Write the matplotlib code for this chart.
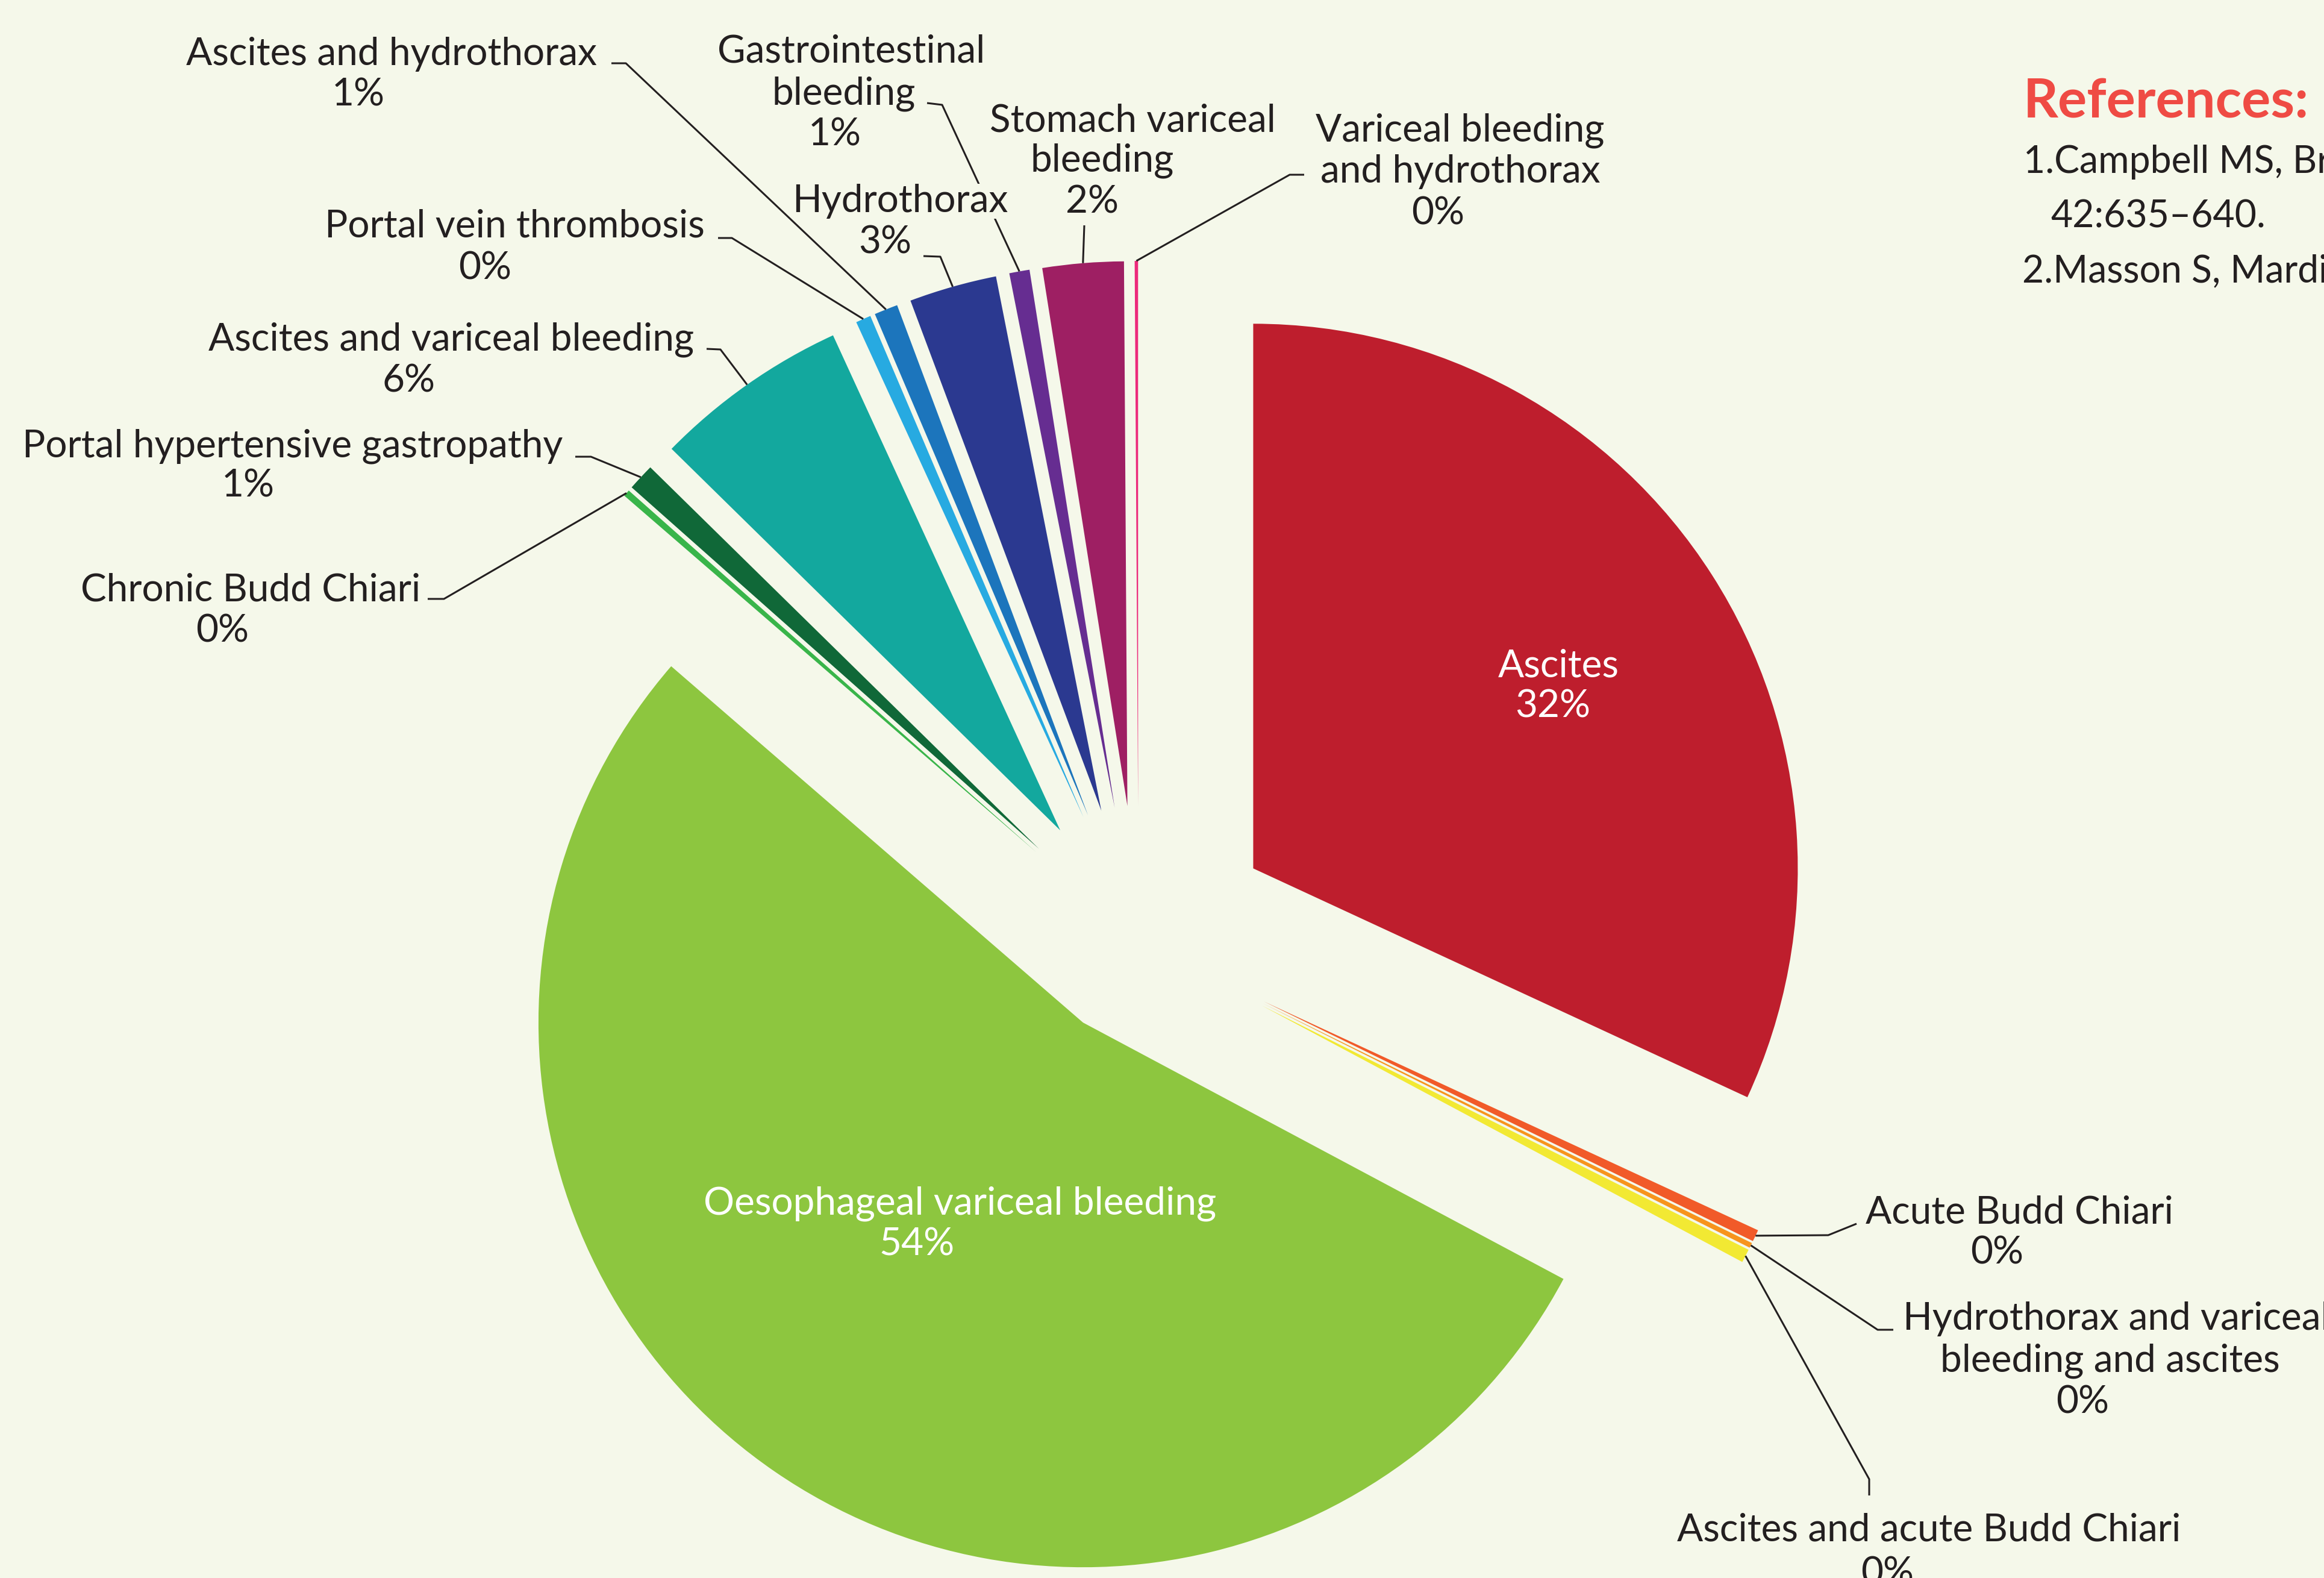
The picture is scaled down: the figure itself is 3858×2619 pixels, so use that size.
import matplotlib
matplotlib.use("Agg")
import matplotlib.pyplot as plt
import numpy as np

# share of presentations by decompensation type (%), clockwise from 12 o'clock
categories = [
    "Ascites",
    "Acute Budd Chiari",
    "Hydrothorax and variceal bleeding and ascites",
    "Ascites and acute Budd Chiari",
    "Oesophageal variceal bleeding",
    "Chronic Budd Chiari",
    "Portal hypertensive gastropathy",
    "Ascites and variceal bleeding",
    "Portal vein thrombosis",
    "Ascites and hydrothorax",
    "Hydrothorax",
    "Gastrointestinal bleeding",
    "Stomach variceal bleeding",
    "Variceal bleeding and hydrothorax",
]
shares = [31.9, 0.35, 0.15, 0.4, 53.55, 0.2, 0.8, 5.8, 0.45, 0.7, 2.6, 0.6, 2.4, 0.1]

# label text as printed (line breaks included)
label_text = [
    "Ascites",
    "Acute Budd Chiari",
    "Hydrothorax and variceal\nbleeding and ascites",
    "Ascites and acute Budd Chiari",
    "Oesophageal variceal bleeding",
    "Chronic Budd Chiari",
    "Portal hypertensive gastropathy",
    "Ascites and variceal bleeding",
    "Portal vein thrombosis",
    "Ascites and hydrothorax",
    "Hydrothorax",
    "Gastrointestinal\nbleeding",
    "Stomach variceal\nbleeding",
    "Variceal bleeding\nand hydrothorax",
]

references = [
    "1.Campbell MS, Brensinger CM, Sanyal AJ, et al. Quality of life",
    "42:635\u2013640.",
    "2.Masson S, Mardini HA, Rose JD, Record CO. Hepatic",
]

colors = ["#BE1E2D", "#F15A29", "#F7941D", "#F2E933", "#8DC63F", "#39B54A",
          "#106838", "#13A89E", "#27AAE1", "#1C75BC", "#2B3990", "#662D91",
          "#9E1F63", "#EC2A7B"]
explode = [0.25, 0.255, 0.255, 0.255, 0.18, 0.25, 0.25, 0.25, 0.25, 0.25,
           0.25, 0.25, 0.25, 0.25]

BG = "#F5F8EA"
INK = "#231F20"
FONT = ["Lato", "DejaVu Sans"]

# canvas in pixels; pie centre and radius in the same pixel frame (y down)
W, H = 3858, 2619
CX, CY, R = 1890, 1563, 904


def to_data(x, y):
    return (x - CX) / R, (CY - y) / R


# text placement in pixels: name lines (x, baseline[, ha]), percent line, leader elbows
layout = [
    dict(name=[(2587, 1123)], pct=(2578, 1190), leader=None, color="white"),
    dict(name=[(3353, 2030)], pct=(3315, 2098), leader=[(3035, 2050), (3082, 2031)]),
    dict(name=[(3159, 2207, "left"), (3503, 2276)], pct=(3457, 2345),
         leader=[(3117, 2207), (3143, 2207)]),
    dict(name=[(3202, 2558)], pct=(3133, 2630), leader=[(3103, 2455), (3103, 2482)]),
    dict(name=[(1594, 2015)], pct=(1522, 2083), leader=None, color="white"),
    dict(name=[(416, 997)], pct=(369, 1065), leader=[(737, 994), (710, 994)]),
    dict(name=[(486, 758)], pct=(412, 824), leader=[(981, 758), (955, 758)]),
    dict(name=[(749, 581)], pct=(678, 650), leader=[(1196, 580), (1173, 579)]),
    dict(name=[(854, 394)], pct=(805, 463), leader=[(1215, 395), (1192, 395)]),
    dict(name=[(650, 108)], pct=(595, 175), leader=[(1039, 105), (1015, 105)]),
    dict(name=[(1494, 352)], pct=(1469, 420), leader=[(1561, 426), (1533, 425)]),
    dict(name=[(1413, 103), (1401, 173)], pct=(1386, 241), leader=[(1564, 174), (1539, 171)]),
    dict(name=[(1880, 218), (1830, 284)], pct=(1813, 354), leader=[(1800, 374)]),
    dict(name=[(2424, 234), (2424, 303)], pct=(2387, 372), leader=[(2141, 290), (2165, 290)]),
]

fig = plt.figure(figsize=(W / 100, H / 100), dpi=100, facecolor=BG)
ax = fig.add_axes([0, 0, 1, 1])

wedges, _ = ax.pie(shares, explode=explode, colors=colors, startangle=90,
                   counterclock=False, radius=1, center=(0, 0),
                   wedgeprops=dict(linewidth=0))
ax.set_aspect("equal")
ax.set_xlim(-CX / R, (W - CX) / R)
ax.set_ylim((CY - H) / R, CY / R)
ax.axis("off")

total = sum(shares)
for i, (w, lay) in enumerate(zip(wedges, layout)):
    # leader from the middle of the wedge's outer arc to the label
    if lay["leader"]:
        a = np.deg2rad(0.5 * (w.theta1 + w.theta2))
        pts = [(w.center[0] + w.r * np.cos(a), w.center[1] + w.r * np.sin(a))]
        pts += [to_data(*p) for p in lay["leader"]]
        xs, ys = zip(*pts)
        ax.plot(xs, ys, color=INK, lw=2.2, solid_capstyle="butt", zorder=2)

    color = lay.get("color", INK)
    box = None if color == "white" else dict(facecolor=BG, edgecolor="none", pad=0)
    lines = label_text[i].split("\n")
    for line, pos in zip(lines, lay["name"]):
        ha = pos[2] if len(pos) > 2 else "center"
        ax.text(*to_data(pos[0], pos[1]), line, ha=ha, va="baseline",
                fontsize=46, family=FONT, color=color, bbox=box, zorder=3)
    pct = f"{shares[i] / total * 100:.0f}%"
    ax.text(*to_data(*lay["pct"]), pct, ha="center", va="baseline",
            fontsize=46, family=FONT, color=color, bbox=box, zorder=3)

# reference block, running off the right edge
ax.text(*to_data(3359, 196), "References:", ha="left", va="baseline",
        fontsize=65, fontweight="bold", family=FONT, color="#EF4B44")
for line, (x, y) in zip(references, [(3359, 287), (3404, 377), (3357, 469)]):
    ax.text(*to_data(x, y), line, ha="left", va="baseline",
            fontsize=45, family=FONT, color=INK)

fig.savefig("out.png", dpi=100, facecolor=BG)
